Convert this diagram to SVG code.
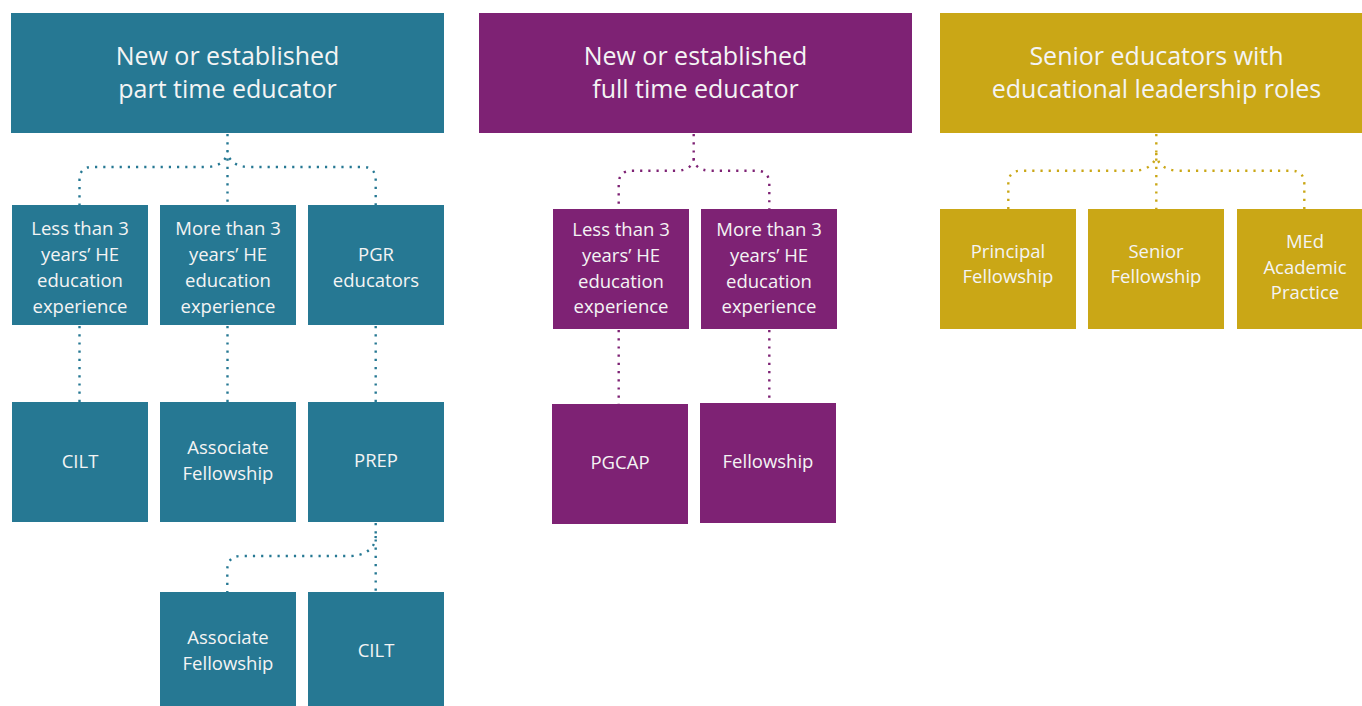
<svg xmlns="http://www.w3.org/2000/svg" width="1362" height="706" viewBox="0 0 1362 706">
<style>
.t{fill:#267893}.p{fill:#7e2274}.g{fill:#caa716}
text{font-family:"Open Sans","Liberation Sans",sans-serif;fill:#f4f4f4;text-anchor:middle}
.h{font-size:25px}.b{font-size:18.5px}
.c{fill:none;stroke-width:2.4;stroke-dasharray:2.2 6}
.ct{stroke:#267893}.cp{stroke:#7e2274}.cg{stroke:#caa716}
</style>
<rect width="1362" height="706" fill="#fff"/>
<g id="connectors">
<path class="c ct" d="M227.5,134 V205 M227.5,150 C227.5,160 220,167 205,167 H92 Q79.5,167 79.5,180 V205 M227.5,150 C227.5,160 235,167 250,167 H363 Q375.7,167 375.7,180 V205"/>
<path class="c ct" d="M79.5,326 V402 M227.5,326 V402 M375.7,326 V402"/>
<path class="c ct" d="M375.7,523 V592 M375.7,536 C375.7,548 365,556 350,556 H241 Q227.3,556 227.3,570 V592"/>
<path class="c cp" d="M693.7,134 V158 C693.7,165 688,170.7 676,170.7 H632 Q618.7,170.7 618.7,184 V209 M693.7,158 C693.7,165 699,170.7 711,170.7 H756 Q769.3,170.7 769.3,184 V209"/>
<path class="c cp" d="M618.7,330 V404 M769.3,330 V403"/>
<path class="c cg" d="M1156.3,134 V209 M1156.3,153 C1156.3,163 1148,170.7 1133,170.7 H1021 Q1008.3,170.7 1008.3,184 V209 M1156.3,153 C1156.3,163 1164,170.7 1179,170.7 H1291 Q1304.3,170.7 1304.3,184 V209"/>
</g>
<g id="h-part"><rect class="t" x="11" y="13" width="433" height="120"/><text class="h" x="227.5" y="65">New or established</text><text class="h" x="227.5" y="98">part time educator</text></g>
<g id="h-full"><rect class="p" x="479" y="13" width="433" height="120"/><text class="h" x="695.5" y="65">New or established</text><text class="h" x="695.5" y="98">full time educator</text></g>
<g id="h-senior"><rect class="g" x="940" y="13" width="433" height="120"/><text class="h" x="1156.5" y="65">Senior educators with</text><text class="h" x="1156.5" y="98">educational leadership roles</text></g>

<g id="pt-less"><rect class="t" x="12" y="205" width="136" height="120"/><text class="b" x="80" y="235">Less than 3</text><text class="b" x="80" y="261">years’ HE</text><text class="b" x="80" y="287">education</text><text class="b" x="80" y="313">experience</text></g>
<g id="pt-more"><rect class="t" x="160" y="205" width="136" height="120"/><text class="b" x="228" y="235">More than 3</text><text class="b" x="228" y="261">years’ HE</text><text class="b" x="228" y="287">education</text><text class="b" x="228" y="313">experience</text></g>
<g id="pt-pgr"><rect class="t" x="308" y="205" width="136" height="120"/><text class="b" x="376" y="261">PGR</text><text class="b" x="376" y="287">educators</text></g>
<g id="pt-cilt"><rect class="t" x="12" y="402" width="136" height="120"/><text class="b" x="80" y="468">CILT</text></g>
<g id="pt-af"><rect class="t" x="160" y="402" width="136" height="120"/><text class="b" x="228" y="454">Associate</text><text class="b" x="228" y="480">Fellowship</text></g>
<g id="pt-prep"><rect class="t" x="308" y="402" width="136" height="120"/><text class="b" x="376" y="467">PREP</text></g>
<g id="prep-af"><rect class="t" x="160" y="592" width="136" height="120"/><text class="b" x="228" y="644">Associate</text><text class="b" x="228" y="670">Fellowship</text></g>
<g id="prep-cilt"><rect class="t" x="308" y="592" width="136" height="120"/><text class="b" x="376" y="657">CILT</text></g>

<g id="ft-less"><rect class="p" x="553" y="209" width="136" height="120"/><text class="b" x="621" y="236">Less than 3</text><text class="b" x="621" y="262">years’ HE</text><text class="b" x="621" y="288">education</text><text class="b" x="621" y="313">experience</text></g>
<g id="ft-more"><rect class="p" x="701" y="209" width="136" height="120"/><text class="b" x="769" y="236">More than 3</text><text class="b" x="769" y="262">years’ HE</text><text class="b" x="769" y="288">education</text><text class="b" x="769" y="313">experience</text></g>
<g id="ft-pgcap"><rect class="p" x="552" y="404" width="136" height="120"/><text class="b" x="620" y="469">PGCAP</text></g>
<g id="ft-fellow"><rect class="p" x="700" y="403" width="136" height="120"/><text class="b" x="768" y="468">Fellowship</text></g>

<g id="s-principal"><rect class="g" x="940" y="209" width="136" height="120"/><text class="b" x="1008" y="258">Principal</text><text class="b" x="1008" y="283">Fellowship</text></g>
<g id="s-senior"><rect class="g" x="1088" y="209" width="136" height="120"/><text class="b" x="1156" y="258">Senior</text><text class="b" x="1156" y="283">Fellowship</text></g>
<g id="s-med"><rect class="g" x="1237" y="209" width="136" height="120"/><text class="b" x="1305" y="248">MEd</text><text class="b" x="1305" y="274">Academic</text><text class="b" x="1305" y="299">Practice</text></g>
</svg>
